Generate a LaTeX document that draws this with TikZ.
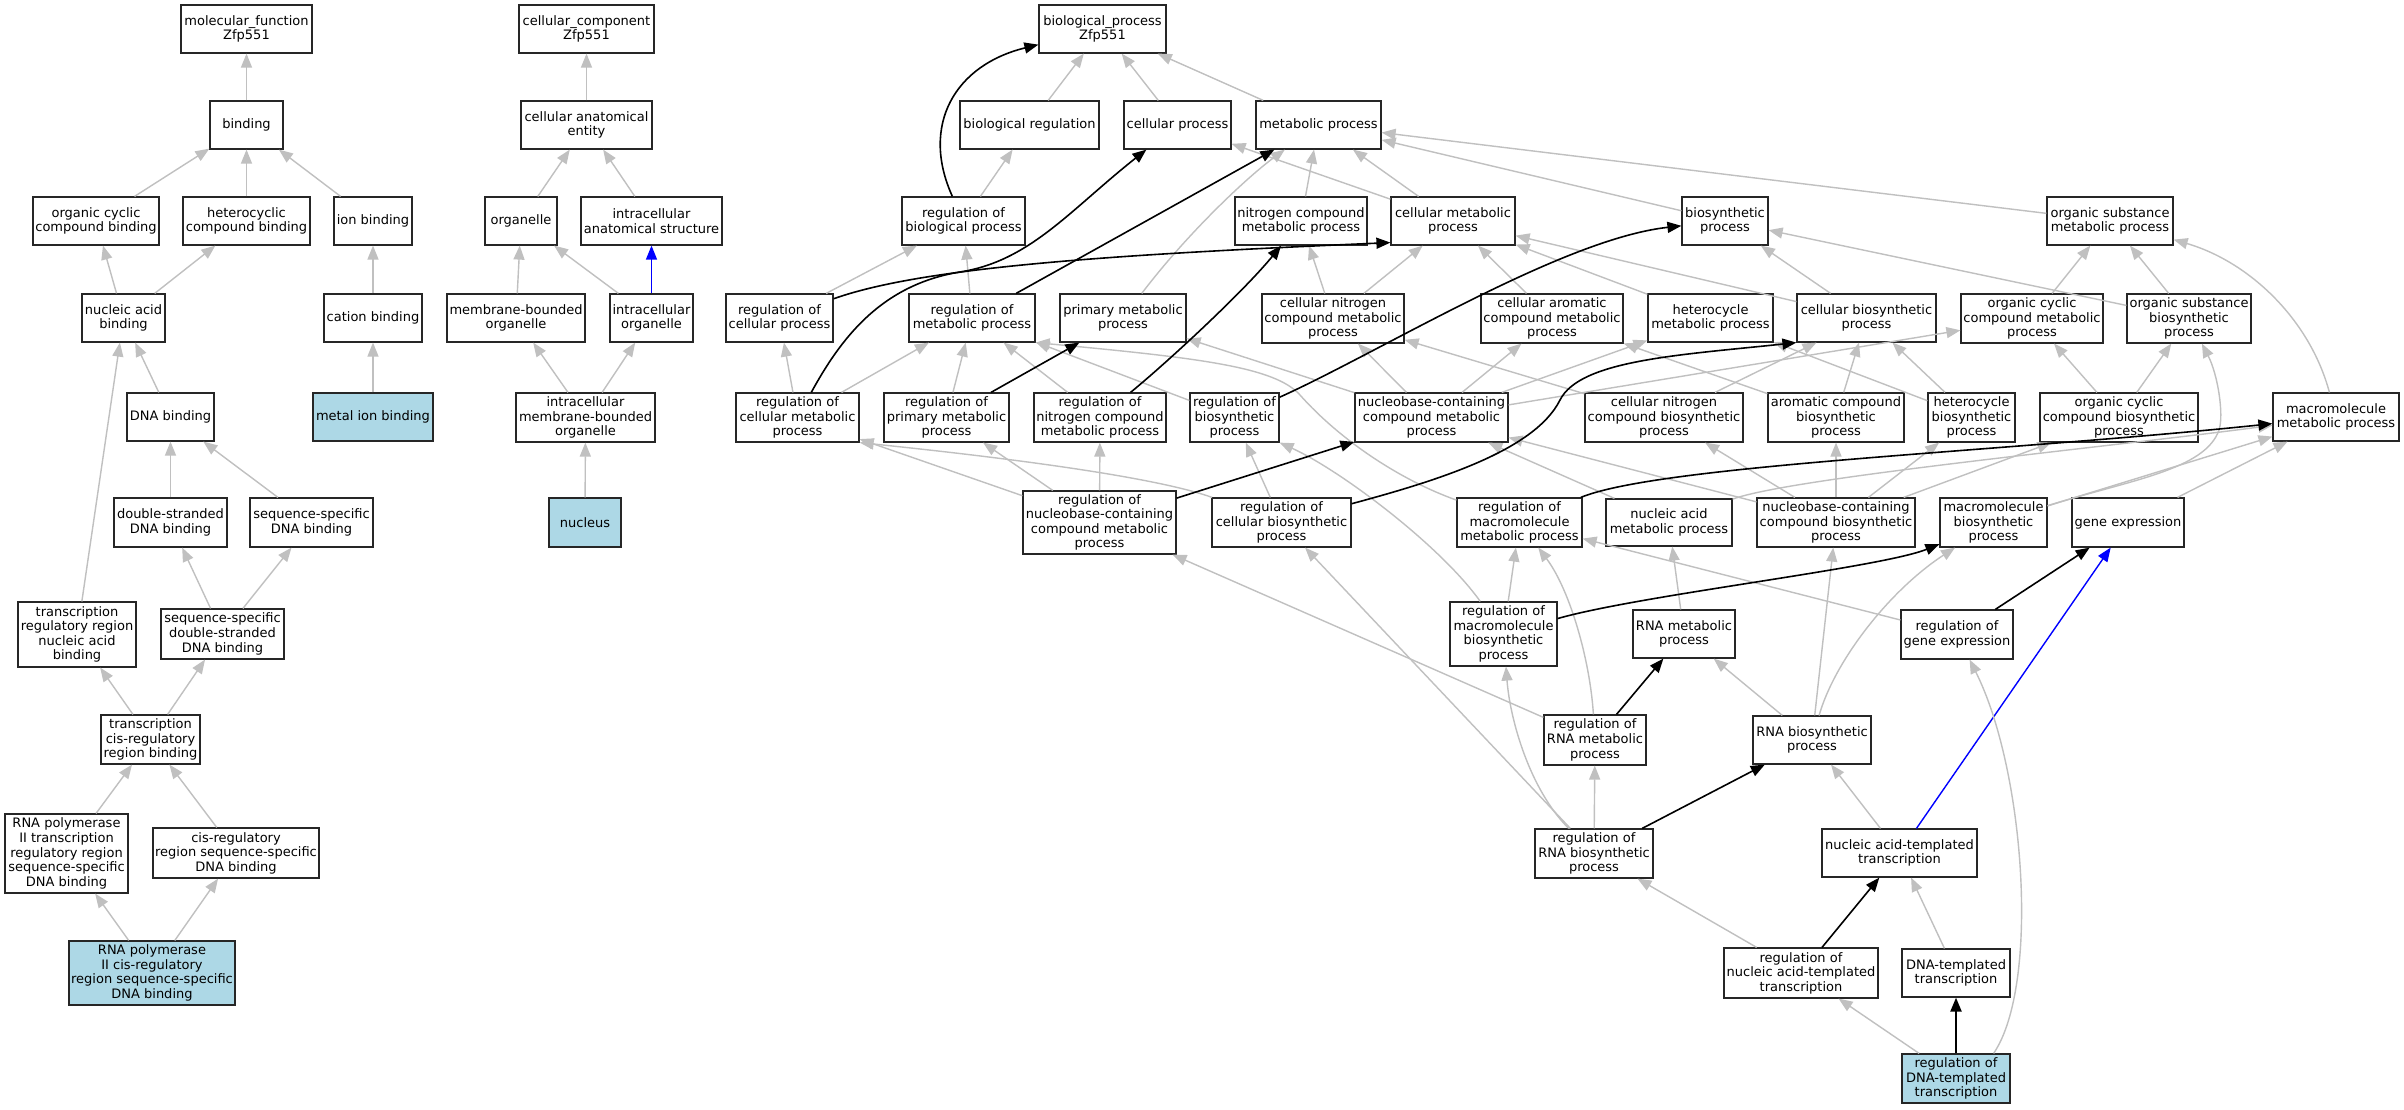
\documentclass[tikz,border=0pt]{standalone}
\usepackage{fontspec}
\setmainfont{DejaVu Sans}
\usetikzlibrary{arrows.meta}
\definecolor{egray}{RGB}{192,192,192}
\definecolor{hlblue}{RGB}{173,216,230}
\newcommand\GN[7]{\node[gobox,#1,minimum width={#5-#3},minimum height={#6-#4}] (#2) at ({(#3+#5)/2},{(#4+#6)/2}) {#7};}
\begin{document}
\begin{tikzpicture}[x=1pt,y=-1pt,
  gobox/.style={draw=black!85,line width=1.2pt,rectangle,inner sep=1pt,align=center,
    font=\fontsize{13}{14.6}\selectfont,text=black,fill=white},
  gow/.style={},
  gob/.style={fill=hlblue},
  isa/.style={draw=egray,line width=1.4pt,-{Triangle[length=14pt,width=11pt]}},
  regl/.style={draw=black,line width=1.6pt,-{Triangle[length=14pt,width=11pt]}},
  partof/.style={draw=blue,line width=1.4pt,-{Triangle[length=14pt,width=11pt]}}]
\fill[white] (0,0) rectangle (2404,1109);
\useasboundingbox (0,0) rectangle (2404,1109);
% ---------- molecular function ----------
\GN{gow}{mf}{181}{5}{312}{53}{molecular\_function\\Zfp551}
\GN{gow}{binding}{210}{101}{283}{149}{binding}
\GN{gow}{occb}{33}{197}{159}{245}{organic cyclic\\compound binding}
\GN{gow}{hccb}{183}{197}{310}{245}{heterocyclic\\compound binding}
\GN{gow}{ionb}{334}{197}{412}{245}{ion binding}
\GN{gow}{nab}{82}{294}{165}{342}{nucleic acid\\binding}
\GN{gow}{catb}{324}{294}{422}{342}{cation binding}
\GN{gob}{metb}{313}{393}{433}{441}{metal ion binding}
\GN{gow}{dnab}{127}{393}{214}{441}{DNA binding}
\GN{gow}{dsdna}{114}{498}{227}{547}{double-stranded\\DNA binding}
\GN{gow}{ssdna}{250}{498}{373}{547}{sequence-specific\\DNA binding}
\GN{gow}{trrnab}{18}{602}{136}{667}{transcription\\regulatory region\\nucleic acid\\binding}
\GN{gow}{ssds}{161}{609}{284}{659}{sequence-specific\\double-stranded\\DNA binding}
\GN{gow}{tcis}{101}{715}{200}{764}{transcription\\cis-regulatory\\region binding}
\GN{gow}{rp2tr}{5}{814}{128}{893}{RNA polymerase\\II transcription\\regulatory region\\sequence-specific\\DNA binding}
\GN{gow}{cisss}{153}{828}{319}{878}{cis-regulatory\\region sequence-specific\\DNA binding}
\GN{gob}{rp2cis}{69}{941}{235}{1005}{RNA polymerase\\II cis-regulatory\\region sequence-specific\\DNA binding}
% ---------- cellular component ----------
\GN{gow}{cc}{519}{5}{654}{53}{cellular\_component\\Zfp551}
\GN{gow}{cae}{521}{101}{652}{149}{cellular anatomical\\entity}
\GN{gow}{org}{485}{197}{557}{245}{organelle}
\GN{gow}{ias}{581}{197}{722}{245}{intracellular\\anatomical structure}
\GN{gow}{mbo}{447}{294}{585}{342}{membrane-bounded\\organelle}
\GN{gow}{io}{610}{294}{693}{342}{intracellular\\organelle}
\GN{gow}{imbo}{516}{393}{655}{442}{intracellular\\membrane-bounded\\organelle}
\GN{gob}{nuc}{549}{498}{621}{547}{nucleus}
% ---------- biological process ----------
\GN{gow}{bp}{1039}{5}{1166}{53}{biological\_process\\Zfp551}
\GN{gow}{breg}{960}{101}{1099}{149}{biological regulation}
\GN{gow}{cp}{1124}{101}{1231}{149}{cellular process}
\GN{gow}{mp}{1256}{101}{1381}{149}{metabolic process}
\GN{gow}{rbp}{902}{197}{1025}{245}{regulation of\\biological process}
\GN{gow}{ncmp}{1235}{197}{1367}{245}{nitrogen compound\\metabolic process}
\GN{gow}{cmp}{1391}{197}{1515}{245}{cellular metabolic\\process}
\GN{gow}{bsp}{1682}{197}{1768}{245}{biosynthetic\\process}
\GN{gow}{osmp}{2047}{197}{2173}{245}{organic substance\\metabolic process}
\GN{gow}{rcp}{726}{294}{833}{342}{regulation of\\cellular process}
\GN{gow}{rmp}{909}{294}{1035}{342}{regulation of\\metabolic process}
\GN{gow}{pmp}{1060}{294}{1186}{342}{primary metabolic\\process}
\GN{gow}{cncmp}{1262}{294}{1404}{343}{cellular nitrogen\\compound metabolic\\process}
\GN{gow}{cacmp}{1481}{294}{1623}{343}{cellular aromatic\\compound metabolic\\process}
\GN{gow}{hcmp}{1648}{294}{1773}{342}{heterocycle\\metabolic process}
\GN{gow}{cbp}{1797}{294}{1936}{342}{cellular biosynthetic\\process}
\GN{gow}{occmp}{1961}{294}{2103}{343}{organic cyclic\\compound metabolic\\process}
\GN{gow}{osbp}{2127}{294}{2251}{343}{organic substance\\biosynthetic\\process}
\GN{gow}{rcmp}{736}{393}{859}{442}{regulation of\\cellular metabolic\\process}
\GN{gow}{rpmp}{884}{393}{1009}{442}{regulation of\\primary metabolic\\process}
\GN{gow}{rncmp}{1034}{393}{1166}{442}{regulation of\\nitrogen compound\\metabolic process}
\GN{gow}{rbsp}{1190}{393}{1279}{442}{regulation of\\biosynthetic\\process}
\GN{gow}{nbcmp}{1355}{393}{1508}{442}{nucleobase-containing\\compound metabolic\\process}
\GN{gow}{cncbp}{1585}{393}{1743}{442}{cellular nitrogen\\compound biosynthetic\\process}
\GN{gow}{acbp}{1768}{393}{1904}{442}{aromatic compound\\biosynthetic\\process}
\GN{gow}{hcbp}{1928}{393}{2015}{442}{heterocycle\\biosynthetic\\process}
\GN{gow}{occbp}{2040}{393}{2198}{442}{organic cyclic\\compound biosynthetic\\process}
\GN{gow}{mmp}{2273}{393}{2399}{441}{macromolecule\\metabolic process}
\GN{gow}{rnbc}{1023}{491}{1176}{554}{regulation of\\nucleobase-containing\\compound metabolic\\process}
\GN{gow}{rcbp}{1212}{498}{1351}{547}{regulation of\\cellular biosynthetic\\process}
\GN{gow}{rmmp}{1457}{498}{1582}{547}{regulation of\\macromolecule\\metabolic process}
\GN{gow}{namp}{1606}{499}{1732}{546}{nucleic acid\\metabolic process}
\GN{gow}{nbcbp}{1757}{498}{1915}{547}{nucleobase-containing\\compound biosynthetic\\process}
\GN{gow}{mbp}{1940}{498}{2047}{547}{macromolecule\\biosynthetic\\process}
\GN{gow}{ge}{2072}{498}{2184}{547}{gene expression}
\GN{gow}{rmbp}{1450}{602}{1557}{666}{regulation of\\macromolecule\\biosynthetic\\process}
\GN{gow}{rnamp}{1633}{610}{1735}{658}{RNA metabolic\\process}
\GN{gow}{rge}{1901}{610}{2013}{659}{regulation of\\gene expression}
\GN{gow}{rrnamp}{1544}{715}{1646}{765}{regulation of\\RNA metabolic\\process}
\GN{gow}{rnabp}{1753}{716}{1871}{764}{RNA biosynthetic\\process}
\GN{gow}{rrnabp}{1535}{829}{1653}{878}{regulation of\\RNA biosynthetic\\process}
\GN{gow}{natt}{1822}{829}{1977}{877}{nucleic acid-templated\\transcription}
\GN{gow}{rnatt}{1724}{948}{1878}{998}{regulation of\\nucleic acid-templated\\transcription}
\GN{gow}{dtt}{1902}{949}{2010}{997}{DNA-templated\\transcription}
\GN{gob}{rdtt}{1902}{1054}{2010}{1103}{regulation of\\DNA-templated\\transcription}
% ---------- MF edges ----------
\draw[isa] (binding) -- (mf);
\draw[isa] (occb) -- (binding);
\draw[isa] (hccb) -- (binding);
\draw[isa] (ionb) -- (binding);
\draw[isa] (nab) -- (occb);
\draw[isa] (nab) -- (hccb);
\draw[isa] (catb) -- (ionb);
\draw[isa] (metb) -- (catb);
\draw[isa] (dnab) -- (nab);
\draw[isa] (trrnab) -- (nab);
\draw[isa] (dsdna) -- (dnab);
\draw[isa] (ssdna) -- (dnab);
\draw[isa] (ssds) -- (dsdna);
\draw[isa] (ssds) -- (ssdna);
\draw[isa] (tcis) -- (trrnab);
\draw[isa] (tcis) -- (ssds);
\draw[isa] (rp2tr) -- (tcis);
\draw[isa] (cisss) -- (tcis);
\draw[isa] (rp2cis) -- (rp2tr);
\draw[isa] (rp2cis) -- (cisss);
% ---------- CC edges ----------
\draw[isa] (cae) -- (cc);
\draw[isa] (org) -- (cae);
\draw[isa] (ias) -- (cae);
\draw[isa] (mbo) -- (org);
\draw[isa] (io) -- (org);
\draw[partof] (io) -- (ias);
\draw[isa] (imbo) -- (mbo);
\draw[isa] (imbo) -- (io);
\draw[isa] (nuc) -- (imbo);
% ---------- BP gray edges ----------
\draw[isa] (breg) -- (bp);
\draw[isa] (cp) -- (bp);
\draw[isa] (mp) -- (bp);
\draw[isa] (rbp) -- (breg);
\draw[isa] (rcp) -- (rbp);
\draw[isa] (rmp) -- (rbp);
\draw[isa] (cmp) -- (cp);
\draw[isa] (cmp) -- (mp);
\draw[isa] (ncmp) -- (mp);
\draw[isa] (pmp) .. controls (1190,230) and (1250,175) .. (mp);
\draw[isa] (bsp) -- (mp);
\draw[isa] (osmp) -- (mp);
\draw[isa] (cncmp) -- (ncmp);
\draw[isa] (cncmp) -- (cmp);
\draw[isa] (cacmp) -- (cmp);
\draw[isa] (hcmp) -- (cmp);
\draw[isa] (cbp) -- (cmp);
\draw[isa] (cbp) -- (bsp);
\draw[isa] (osbp) -- (bsp);
\draw[isa] (osbp) -- (osmp);
\draw[isa] (occmp) -- (osmp);
\draw[isa] (mmp) .. controls (2310,320) and (2250,262) .. (osmp);
\draw[isa] (rcmp) -- (rcp);
\draw[isa] (rcmp) -- (rmp);
\draw[isa] (rpmp) -- (rmp);
\draw[isa] (rncmp) -- (rmp);
\draw[isa] (rbsp) -- (rmp);
\draw[isa] (nbcmp) -- (cncmp);
\draw[isa] (nbcmp) -- (cacmp);
\draw[isa] (nbcmp) -- (hcmp);
\draw[isa] (nbcmp) -- (occmp);
\draw[isa] (nbcmp) -- (pmp);
\draw[isa] (rnbc) -- (rcmp);
\draw[isa] (rnbc) -- (rpmp);
\draw[isa] (rnbc) -- (rncmp);
\draw[isa] (rcbp) -- (rbsp);
\draw[isa] (rcbp) .. controls (1150,475) and (980,455) .. (rcmp.south east);
\draw[isa] (rmmp) .. controls (1400,480) and (1340,440) .. (1300,395) .. controls (1275,367) and (1200,358) .. (rmp.south east);
\draw[isa] (rmbp) -- (rmmp);
\draw[isa] (rmbp) .. controls (1440,545) and (1340,470) .. (rbsp.south east);
\draw[isa] (namp) -- (nbcmp);
\draw[isa] (namp) .. controls (1790,478) and (2100,448) .. (mmp);
\draw[isa] (nbcbp) -- (nbcmp);
\draw[isa] (nbcbp) -- (cncbp);
\draw[isa] (nbcbp) -- (acbp);
\draw[isa] (nbcbp) -- (hcbp);
\draw[isa] (nbcbp) -- (occbp);
\draw[isa] (cncbp) -- (cncmp);
\draw[isa] (cncbp) -- (cbp);
\draw[isa] (acbp) -- (cacmp);
\draw[isa] (acbp) -- (cbp);
\draw[isa] (hcbp) -- (hcmp);
\draw[isa] (hcbp) -- (cbp);
\draw[isa] (occbp) -- (occmp);
\draw[isa] (occbp) -- (osbp);
\draw[isa] (mbp) -- (mmp);
\draw[isa] (mbp) .. controls (2130,480) and (2205,470) .. (2219,430) .. controls (2224,415) and (2218,375) .. (osbp);
\draw[isa] (ge) -- (mmp);
\draw[isa] (rge) -- (rmmp);
\draw[isa] (rnamp) -- (namp);
\draw[isa] (rrnamp) .. controls (1590,660) and (1570,590) .. (rmmp);
\draw[isa] (rrnamp) -- (rnbc);
\draw[isa] (rnabp) -- (rnamp);
\draw[isa] (rnabp) -- (nbcbp);
\draw[isa] (rnabp) .. controls (1835,660) and (1890,590) .. (mbp);
\draw[isa] (rrnabp) -- (rrnamp);
\draw[isa] (rrnabp) -- (rcbp);
\draw[isa] (rrnabp) .. controls (1530,790) and (1510,720) .. (rmbp);
\draw[isa] (natt) -- (rnabp);
\draw[partof] (natt) -- (ge);
\draw[isa] (rnatt) -- (rrnabp);
\draw[isa] (dtt) -- (natt);
\draw[isa] (rdtt) -- (rnatt);
\draw[isa] ([xshift=-17pt]rdtt.north east) .. controls (2040,985) and (2025,770) .. (rge);
% ---------- regulates edges ----------
\draw[regl] (rbp) .. controls (920,125) and (955,65) .. (bp);
\draw[regl] (rcp) .. controls (920,268) and (1100,255) .. ([yshift=3pt]cmp.south west);
\draw[regl] (rcmp) .. controls (840,340) and (880,285) .. (960,272) .. controls (1030,261) and (1070,210) .. (cp);
\draw[regl] (rmp) -- (mp);
\draw[regl] (rpmp) -- (pmp);
\draw[regl] (rncmp) .. controls (1170,360) and (1245,290) .. (ncmp);
\draw[regl] (rbsp) .. controls (1380,352) and (1562,239) .. (bsp);
\draw[regl] (rnbc) -- (nbcmp);
\draw[regl] (rcbp) .. controls (1440,480) and (1535,450) .. (1560,400) .. controls (1580,360) and (1680,355) .. (cbp.south west);
\draw[regl] (rmmp) .. controls (1660,465) and (2000,452) .. (mmp);
\draw[regl] (rmbp) .. controls (1640,595) and (1880,568) .. (mbp);
\draw[regl] (rrnamp) -- (rnamp);
\draw[regl] (rrnabp) -- (rnabp);
\draw[regl] (rge) -- (ge);
\draw[regl] (rnatt) -- (natt);
\draw[regl,line width=2.2pt] (rdtt) -- (dtt);
\end{tikzpicture}
\end{document}
